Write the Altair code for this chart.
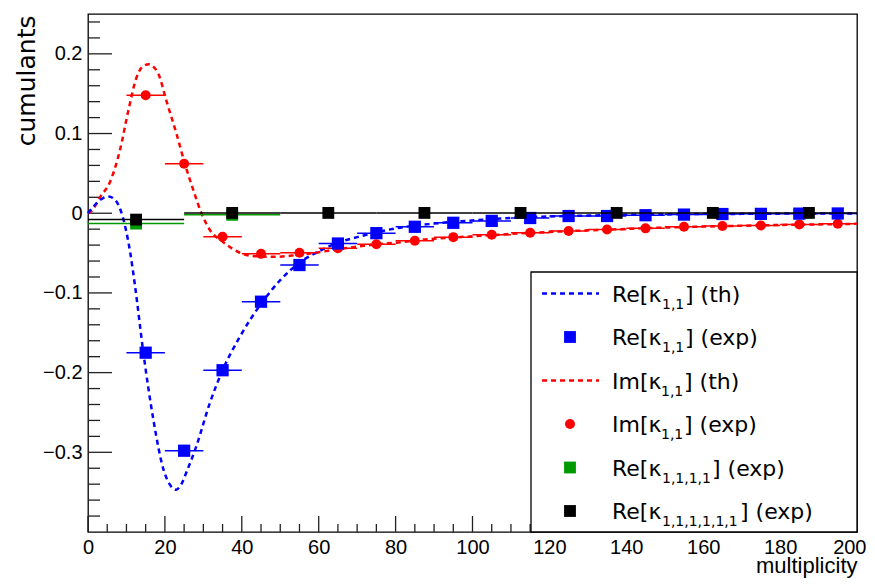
import altair as alt
import pandas as pd

# ---------------- data ----------------
re_exp_x = [15, 25, 35, 45, 55, 65, 75, 85, 95, 105, 115, 125, 135, 145, 155, 165, 175, 185, 195]
re_exp_y = [-0.175, -0.298, -0.197, -0.111, -0.065, -0.038, -0.025, -0.017, -0.012, -0.0096,
            -0.006, -0.0035, -0.0035, -0.0025, -0.0017, -0.001, -0.0008, -0.0005, -0.0003]
im_exp_x = [15, 25, 35, 45, 55, 65, 75, 85, 95, 105, 115, 125, 135, 145, 155, 165, 175, 185, 195]
im_exp_y = [0.148, 0.062, -0.0296, -0.051, -0.0496, -0.044, -0.039, -0.0346, -0.030, -0.027,
            -0.0246, -0.0222, -0.0204, -0.019, -0.017, -0.016, -0.0154, -0.014, -0.0133]
bin_half = 5.0

k4_x = [12.5, 37.5]
k4_y = [-0.013, -0.002]
k6_x = [12.5, 37.5, 62.5, 87.5, 112.5, 137.5, 162.5, 187.5]
k6_y = [-0.008, 0.0004, 0.0004, 0.0004, 0.0004, 0.0004, 0.0004, 0.0004]
wide_half = 12.5

re_th_x = [0, 1, 3, 5.3, 7, 9, 11, 12.2, 14.4, 17, 19.6, 21.5, 22.9, 24.3, 25.6, 28.2, 31.7,
           35.1, 39.5, 45.1, 50, 55, 60, 65, 70, 75, 80, 90, 100, 110, 120, 130, 140, 150,
           160, 170, 180, 190, 200]
re_th_y = [0.0, 0.006, 0.016, 0.021, 0.017, -0.004, -0.05, -0.09, -0.175, -0.259, -0.321,
           -0.342, -0.347, -0.340, -0.325, -0.292, -0.238, -0.196, -0.155, -0.113, -0.084,
           -0.062, -0.048, -0.037, -0.030, -0.024, -0.019, -0.013, -0.009, -0.006, -0.004,
           -0.003, -0.002, -0.0015, -0.001, -0.0008, -0.0005, -0.0003, -0.0002]
im_th_x = [0, 1, 3.1, 5.7, 8.3, 10.5, 12.6, 14.2, 15.8, 17, 18.3, 20.4, 23, 25.2, 27.4, 29.5,
           31.7, 35.1, 39.5, 43.8, 49, 54.2, 60, 65, 70, 75, 80, 90, 100, 110, 120, 130, 140,
           150, 160, 170, 180, 190, 200]
im_th_y = [0.0, 0.003, 0.02, 0.039, 0.079, 0.129, 0.170, 0.184, 0.187, 0.184, 0.175, 0.141,
           0.1, 0.062, 0.029, 0.0, -0.021, -0.036, -0.0496, -0.054, -0.0546, -0.0525, -0.049,
           -0.045, -0.042, -0.039, -0.037, -0.032, -0.029, -0.026, -0.0235, -0.0215, -0.0197,
           -0.018, -0.0167, -0.0157, -0.0147, -0.014, -0.0133]

x_major = [0, 20, 40, 60, 80, 100, 120, 140, 160, 180, 200]
x_minor = [5, 10, 15, 25, 30, 35, 45, 50, 55, 65, 70, 75, 85, 90, 95, 105, 110, 115, 125, 130,
           135, 145, 150, 155, 165, 170, 175, 185, 190, 195]
y_major = [-0.3, -0.2, -0.1, 0, 0.1, 0.2]
y_minor = [-0.38, -0.36, -0.34, -0.32, -0.28, -0.26, -0.24, -0.22, -0.18, -0.16, -0.14, -0.12,
           -0.08, -0.06, -0.04, -0.02, 0.02, 0.04, 0.06, 0.08, 0.12, 0.14, 0.16, 0.18, 0.22, 0.24]

legend_prefix = ["Re[κ", "Re[κ", "Im[κ", "Im[κ", "Re[κ", "Re[κ"]
legend_sub = ["1,1", "1,1", "1,1", "1,1", "1,1,1,1", "1,1,1,1,1,1"]
legend_suffix = ["] (th)", "] (exp)", "] (th)", "] (exp)", "] (exp)", "] (exp)"]

# ---------------- styling ----------------
BLUE, RED, GREEN, BLACK = "#0000ff", "#ff0000", "#009a00", "#000000"
W, H = 769, 518
AX_FONT = "Liberation Sans"

xs = alt.Scale(domain=[0, 200], nice=False, zero=False)
ys = alt.Scale(domain=[-0.4, 0.25], nice=False, zero=False)

xaxis = alt.Axis(values=x_major, ticks=False, tickSize=0, domain=False, grid=False,
                 labelFont=AX_FONT, labelFontSize=20, labelColor="black", labelPadding=5,
                 labelFlush=False, labelOverlap=False,
                 labelAlign={"condition": {"test": "datum.value == 200", "value": "right"},
                             "value": "center"},
                 labelOffset={"condition": {"test": "datum.value == 200", "value": 9},
                              "value": 0},
                 title="multiplicity", titleFont=AX_FONT, titleFontSize=22,
                 titleFontWeight="normal", titleColor="black", titleAnchor="end",
                 titleAlign="right", titleBaseline="alphabetic", titleX=W, titleY=40)
yaxis = alt.Axis(values=y_major, ticks=False, tickSize=0, domain=False, grid=False,
                 labelFont=AX_FONT, labelFontSize=20, labelColor="black", labelPadding=6,
                 labelFlush=False, labelOverlap=False,
                 labelExpr="datum.value == 0 ? '0' : format(datum.value, '.1f')",
                 title="cumulants", titleFont="DejaVu Sans", titleFontSize=25,
                 titleFontWeight="normal", titleColor="black", titleAnchor="end",
                 titleAngle=270, titleAlign="right", titleBaseline="alphabetic",
                 titleX=-54, titleY=1)


def X(f):
    return alt.X(f, type="quantitative", scale=xs, axis=xaxis)


def Y(f):
    return alt.Y(f, type="quantitative", scale=ys, axis=yaxis)


def pts(xv, yv, half):
    return pd.DataFrame({"x": xv, "y": yv,
                         "xlo": [v - half for v in xv], "xhi": [v + half for v in xv]})


re_df = pts(re_exp_x, re_exp_y, bin_half)
im_df = pts(im_exp_x, im_exp_y, bin_half)
k4_df = pts(k4_x, k4_y, wide_half)
k6_df = pts(k6_x, k6_y, wide_half)
re_th = pd.DataFrame({"x": re_th_x, "y": re_th_y})
im_th = pd.DataFrame({"x": im_th_x, "y": im_th_y})

TICK = "#222222"
layers = []
# inward ticks
layers.append(alt.Chart(pd.DataFrame({"y": y_major})).mark_rule(color=TICK, strokeWidth=1.3)
              .encode(y=Y("y"), x=alt.value(0), x2=alt.value(24)))
layers.append(alt.Chart(pd.DataFrame({"y": y_minor})).mark_rule(color=TICK, strokeWidth=1.3)
              .encode(y=Y("y"), x=alt.value(0), x2=alt.value(12)))
layers.append(alt.Chart(pd.DataFrame({"x": x_major})).mark_rule(color=TICK, strokeWidth=1.3)
              .encode(x=X("x"), y=alt.value(H), y2=alt.value(H - 16)))
layers.append(alt.Chart(pd.DataFrame({"x": x_minor})).mark_rule(color=TICK, strokeWidth=1.3)
              .encode(x=X("x"), y=alt.value(H), y2=alt.value(H - 8)))

dash = [5, 4]
layers.append(alt.Chart(im_th).mark_line(color=RED, strokeDash=dash, strokeWidth=2.5,
                                         interpolate="monotone").encode(x=X("x"), y=Y("y")))
layers.append(alt.Chart(re_th).mark_line(color=BLUE, strokeDash=dash, strokeWidth=2.5,
                                         interpolate="monotone").encode(x=X("x"), y=Y("y")))


def series(df, color, shape, size):
    bars = alt.Chart(df).mark_rule(color=color, strokeWidth=1.5).encode(
        x=X("xlo"), x2="xhi", y=Y("y"))
    marks = alt.Chart(df).mark_point(shape=shape, filled=True, size=size, opacity=1,
                                     color=color, strokeWidth=0).encode(x=X("x"), y=Y("y"))
    return [bars, marks]


layers += series(im_df, RED, "circle", 100)
layers += series(re_df, BLUE, "square", 150)
layers += series(k4_df, GREEN, "square", 140)
layers += series(k6_df, BLACK, "square", 140)

# ---------------- legend box ----------------
one = pd.DataFrame({"a": [0]})
layers.append(alt.Chart(one).mark_rect(fill="white", stroke="black", strokeWidth=1.3).encode(
    x=alt.value(443), x2=alt.value(W), y=alt.value(258), y2=alt.value(H)))

row_y = [279.5, 323, 366.5, 410, 453.5, 497]
kinds = [("line", BLUE), ("square", BLUE), ("line", RED), ("circle", RED),
         ("square", GREEN), ("square", BLACK)]
sub_x = [574, 574, 573, 573, 574, 574]
suf_x = [597, 597, 596, 596, 624, 652]
for i, (kind, col) in enumerate(kinds):
    ry = row_y[i]
    if kind == "line":
        layers.append(alt.Chart(one).mark_rule(color=col, strokeDash=dash, strokeWidth=2.5)
                      .encode(x=alt.value(454), x2=alt.value(511), y=alt.value(ry)))
    else:
        layers.append(alt.Chart(one).mark_point(shape=kind, filled=True, opacity=1, color=col,
                                                strokeWidth=0,
                                                size=140 if kind == "square" else 100)
                      .encode(x=alt.value(482), y=alt.value(ry)))
    layers.append(alt.Chart(one).mark_text(align="left", baseline="alphabetic",
                                           font="DejaVu Sans", fontSize=22, color="black",
                                           text=legend_prefix[i])
                  .encode(x=alt.value(524), y=alt.value(ry + 8)))
    layers.append(alt.Chart(one).mark_text(align="left", baseline="alphabetic",
                                           font="DejaVu Sans", fontSize=14, color="black",
                                           text=legend_sub[i])
                  .encode(x=alt.value(sub_x[i]), y=alt.value(ry + 15)))
    layers.append(alt.Chart(one).mark_text(align="left", baseline="alphabetic",
                                           font="DejaVu Sans", fontSize=22, color="black",
                                           text=legend_suffix[i])
                  .encode(x=alt.value(suf_x[i]), y=alt.value(ry + 8)))

chart = alt.layer(*layers).properties(
    width=W, height=H,
    autosize=alt.AutoSizeParams(type="none"),
    padding={"left": 80, "top": 6, "right": 10, "bottom": 46},
    background="white",
).configure_view(stroke="black", strokeWidth=1.3)

chart.save("out.html", embed_options={"renderer": "svg", "actions": False})
